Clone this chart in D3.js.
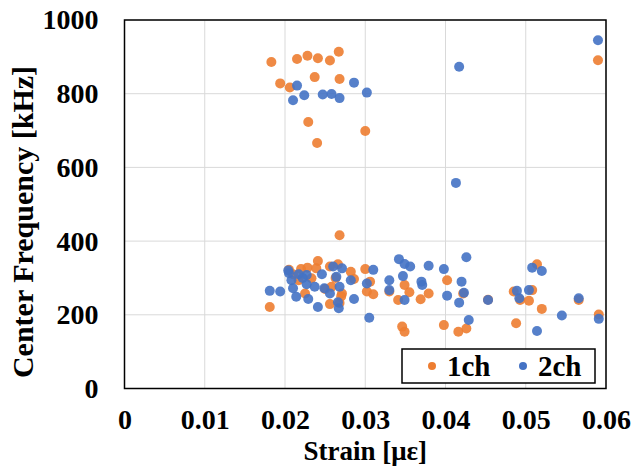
<!DOCTYPE html>
<html>
<head>
<meta charset="utf-8">
<script src="https://cdn.jsdelivr.net/npm/d3@7"></script>
<style>
  body { margin: 0; background: #fff; }
  text { font-family: "Liberation Serif", "Times New Roman", serif; font-weight: bold; fill: #000; }
</style>
</head>
<body>
<div id="chart"></div>
<script>
// 1ch points: [strain, center frequency kHz]
const ch1 = [
  [0.0183, 886], [0.0194, 828], [0.0206, 817], [0.0215, 894], [0.0228, 903], [0.0241, 896],
  [0.0256, 890], [0.0267, 914], [0.0237, 845], [0.0268, 840], [0.0229, 723], [0.0240, 666],
  [0.0300, 699], [0.0590, 891], [0.0268, 416],
  [0.0181, 221], [0.0241, 346], [0.0205, 322], [0.0220, 324], [0.0228, 328], [0.0239, 326],
  [0.0256, 331], [0.0266, 337], [0.0282, 317], [0.0300, 324], [0.0286, 297], [0.0217, 294],
  [0.0233, 299], [0.0225, 258], [0.0258, 276], [0.0271, 258], [0.0256, 229], [0.0302, 263],
  [0.0310, 256], [0.0270, 250], [0.0210, 310], [0.0250, 270], [0.0263, 300], [0.0268, 232],
  [0.0306, 290], [0.0330, 263], [0.0349, 281], [0.0355, 261], [0.0341, 240], [0.0369, 242],
  [0.0379, 258], [0.0402, 294], [0.0422, 258], [0.0346, 168], [0.0349, 154], [0.0398, 172],
  [0.0416, 154], [0.0426, 163], [0.0453, 241], [0.0485, 263], [0.0493, 240], [0.0504, 238],
  [0.0508, 267], [0.0520, 216], [0.0514, 337], [0.0488, 177], [0.0566, 240], [0.0591, 201]
];

// 2ch points: [strain, center frequency kHz]
const ch2 = [
  [0.0215, 822], [0.0210, 782], [0.0224, 796], [0.0247, 798], [0.0258, 799], [0.0268, 788],
  [0.0286, 830], [0.0302, 803], [0.0417, 873], [0.0590, 945], [0.0413, 558],
  [0.0181, 265], [0.0194, 263], [0.0205, 313], [0.0208, 294], [0.0210, 272], [0.0214, 249],
  [0.0217, 310], [0.0227, 308], [0.0227, 283], [0.0229, 243], [0.0237, 276], [0.0241, 221],
  [0.0246, 310], [0.0249, 272], [0.0256, 258], [0.0260, 331], [0.0271, 326], [0.0264, 303],
  [0.0268, 276], [0.0266, 234], [0.0267, 218], [0.0282, 294], [0.0286, 243], [0.0305, 192],
  [0.0302, 285], [0.0310, 322], [0.0204, 320], [0.0222, 300],
  [0.0342, 351], [0.0349, 338], [0.0356, 331], [0.0379, 333], [0.0398, 324], [0.0426, 356],
  [0.0347, 305], [0.0330, 294], [0.0330, 267], [0.0370, 290], [0.0371, 281], [0.0349, 240],
  [0.0402, 252], [0.0420, 290], [0.0423, 260], [0.0417, 233], [0.0453, 240], [0.0429, 186],
  [0.0489, 265], [0.0492, 245], [0.0504, 267], [0.0508, 328], [0.0520, 319], [0.0514, 156],
  [0.0545, 198], [0.0566, 245], [0.0591, 189]
];

const xTicks = [0, 0.01, 0.02, 0.03, 0.04, 0.05, 0.06];
const yTicks = [0, 200, 400, 600, 800, 1000];
const seriesNames = ["1ch", "2ch"];
const colors = ["#ED7D31", "#4472C4"];

const svgWidth = 636;
const svgHeight = 466;
const margin = { top: 20, right: 30, bottom: 77.5, left: 124.5 };
const width = svgWidth - margin.left - margin.right;
const height = svgHeight - margin.top - margin.bottom;

const svg = d3.select("#chart")
  .append("svg")
  .attr("width", svgWidth)
  .attr("height", svgHeight);

const g = svg.append("g")
  .attr("transform", "translate(" + margin.left + "," + margin.top + ")");

const xScale = d3.scaleLinear().domain([0, 0.06]).range([0, width]);
const yScale = d3.scaleLinear().domain([0, 1000]).range([height, 0]);

// gridlines
g.selectAll(".vgrid")
  .data(xTicks)
  .enter()
  .append("line")
  .attr("x1", function(d) { return xScale(d); })
  .attr("x2", function(d) { return xScale(d); })
  .attr("y1", 0)
  .attr("y2", height)
  .style("stroke", "#d9d9d9")
  .style("stroke-width", 1);

g.selectAll(".hgrid")
  .data(yTicks)
  .enter()
  .append("line")
  .attr("x1", 0)
  .attr("x2", width)
  .attr("y1", function(d) { return yScale(d); })
  .attr("y2", function(d) { return yScale(d); })
  .style("stroke", "#d9d9d9")
  .style("stroke-width", 1);

// axes
const xAxis = d3.axisBottom(xScale)
  .tickValues(xTicks)
  .tickSize(0)
  .tickPadding(21)
  .tickFormat(function(d) { return d === 0 ? "0" : d3.format(".2f")(d); });

const yAxis = d3.axisLeft(yScale)
  .tickValues(yTicks)
  .tickSize(0)
  .tickPadding(26)
  .tickFormat(d3.format("d"));

const xg = g.append("g")
  .attr("transform", "translate(0," + height + ")")
  .call(xAxis);
const yg = g.append("g").call(yAxis);

[xg, yg].forEach(function(a) {
  a.select(".domain").remove();
  a.selectAll("text")
    .style("font-family", "'Liberation Serif', 'Times New Roman', serif")
    .style("font-weight", "bold")
    .style("font-size", "28px")
    .style("fill", "#000");
});

// points
[ch1, ch2].forEach(function(series, i) {
  g.append("g")
    .selectAll("circle")
    .data(series)
    .enter()
    .append("circle")
    .attr("cx", function(d) { return xScale(d[0]); })
    .attr("cy", function(d) { return yScale(d[1]); })
    .attr("r", 5)
    .style("fill", colors[i])
    .style("fill-opacity", 0.9);
});

// plot border
g.append("rect")
  .attr("x", 0)
  .attr("y", 0)
  .attr("width", width)
  .attr("height", height)
  .style("fill", "none")
  .style("stroke", "#000")
  .style("stroke-width", 1.5);

// axis titles
svg.append("text")
  .attr("x", margin.left + width / 2)
  .attr("y", 459.8)
  .style("text-anchor", "middle")
  .style("font-size", "27px")
  .text("Strain [με]");

svg.append("text")
  .attr("transform", "rotate(-90)")
  .attr("x", -222)
  .attr("y", 33)
  .style("text-anchor", "middle")
  .style("font-size", "30px")
  .text("Center Frequency [kHz]");

// legend
const legend = svg.append("g");
legend.append("rect")
  .attr("x", 402)
  .attr("y", 349)
  .attr("width", 193)
  .attr("height", 34)
  .style("fill", "#fff")
  .style("stroke", "#000")
  .style("stroke-width", 1.5);

const legendX = [432, 523];
seriesNames.forEach(function(name, i) {
  legend.append("circle")
    .attr("cx", legendX[i])
    .attr("cy", 366)
    .attr("r", 4)
    .style("fill", colors[i]);
  legend.append("text")
    .attr("x", legendX[i] + 15)
    .attr("y", 376)
    .style("font-size", "29px")
    .text(name);
});
</script>
</body>
</html>
